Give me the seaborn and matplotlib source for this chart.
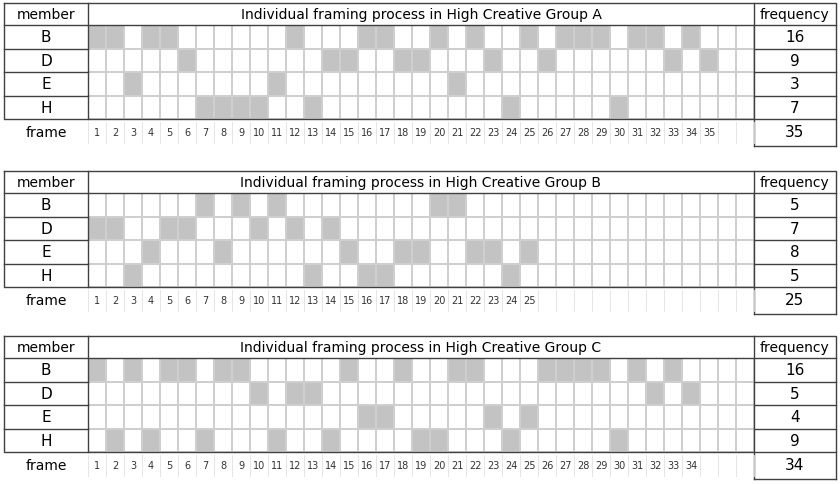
import numpy as np
import seaborn as sns
import matplotlib
matplotlib.use("Agg")
import matplotlib.pyplot as plt

# -------- DATA --------
members = ["B", "D", "E", "H"]
titles = ["Individual framing process in High Creative Group A",
          "Individual framing process in High Creative Group B",
          "Individual framing process in High Creative Group C"]
n_frames = [35, 25, 34]
group_a = {"B": [1, 2, 4, 5, 12, 16, 17, 20, 22, 25, 27, 28, 29, 31, 32, 34],
           "D": [6, 14, 15, 18, 19, 23, 26, 33, 35],
           "E": [3, 11, 21],
           "H": [7, 8, 9, 10, 13, 24, 30]}
group_b = {"B": [7, 9, 11, 20, 21],
           "D": [1, 2, 5, 6, 10, 12, 14],
           "E": [4, 8, 15, 18, 19, 22, 23, 25],
           "H": [3, 13, 16, 17, 24]}
group_c = {"B": [1, 3, 5, 6, 8, 9, 15, 18, 21, 22, 26, 27, 28, 29, 31, 33],
           "D": [10, 12, 13, 32, 34],
           "E": [16, 17, 23, 25],
           "H": [2, 4, 7, 11, 14, 19, 20, 24, 30]}
groups = [group_a, group_b, group_c]
N_COLS = 37

W, H = 840, 485
fig = plt.figure(figsize=(W / 100, H / 100), dpi=100)
ov = fig.add_axes([0, 0, 1, 1], zorder=5)
ov.set_xlim(0, W)
ov.set_ylim(H, 0)
ov.axis("off")
ov.patch.set_alpha(0)

X0, XG0, XG1, X1 = 4, 88, 754, 836
tops = [4, 172, 337]
HDR = 22
ROW = 23.5
dark = "#404040"
fs = 10

for g, top in enumerate(tops):
    grp = groups[g]
    mat = np.zeros((4, N_COLS))
    for i, m in enumerate(members):
        for f in grp[m]:
            mat[i, f - 1] = 1
    gy0 = top + HDR
    gy1 = gy0 + 4 * ROW
    hax = fig.add_axes([XG0 / W, 1 - gy1 / H, (XG1 - XG0) / W, (gy1 - gy0) / H])
    sns.heatmap(mat, ax=hax, cmap=["white", "#c3c3c3"], cbar=False,
                linewidths=0.35, linecolor="#cfcfcf", vmin=0, vmax=1)
    hax.set_xticks([])
    hax.set_yticks([])

    # header and frame
    ov.plot([X0, X1, X1, X0, X0], [top, top, gy1, gy1, top], color=dark, lw=1)
    ov.plot([X0, X1], [gy0, gy0], color=dark, lw=1)
    ov.plot([XG0, XG0], [top, gy1], color=dark, lw=1)
    ov.plot([XG1, XG1], [top, gy1 + 27], color=dark, lw=1)
    ov.plot([X1, X1], [gy1, gy1 + 27], color=dark, lw=1)
    ov.plot([XG1, X1], [gy1 + 27, gy1 + 27], color=dark, lw=1)
    ov.text((X0 + XG0) / 2, top + HDR / 2, "member", ha="center", va="center", fontsize=fs)
    ov.text((XG0 + XG1) / 2, top + HDR / 2, titles[g], ha="center", va="center", fontsize=fs)
    ov.text((XG1 + X1) / 2, top + HDR / 2, "frequency", ha="center", va="center", fontsize=fs)
    for i, m in enumerate(members):
        y = gy0 + (i + 0.5) * ROW
        if i > 0:
            ov.plot([X0, XG0], [gy0 + i * ROW] * 2, color=dark, lw=1)
            ov.plot([XG1, X1], [gy0 + i * ROW] * 2, color=dark, lw=1)
        ov.text((X0 + XG0) / 2, y, m, ha="center", va="center", fontsize=fs + 1)
        ov.text((XG1 + X1) / 2, y, str(len(grp[m])), ha="center", va="center", fontsize=fs + 1)
    # frame row
    fy = gy1 + 13
    ov.text((X0 + XG0) / 2, fy, "frame", ha="center", va="center", fontsize=fs)
    ov.text((XG1 + X1) / 2, fy, str(n_frames[g]), ha="center", va="center", fontsize=fs + 1)
    cw = (XG1 - XG0) / N_COLS
    for c in range(N_COLS + 1):
        ov.plot([XG0 + c * cw] * 2, [gy1 + 3, gy1 + 24], color="#e0e0e0", lw=0.6)
    for c in range(n_frames[g]):
        ov.text(XG0 + (c + 0.5) * cw, fy, str(c + 1), ha="center", va="center",
                fontsize=7, color="#333333")

fig.savefig("out.png", dpi=100)
